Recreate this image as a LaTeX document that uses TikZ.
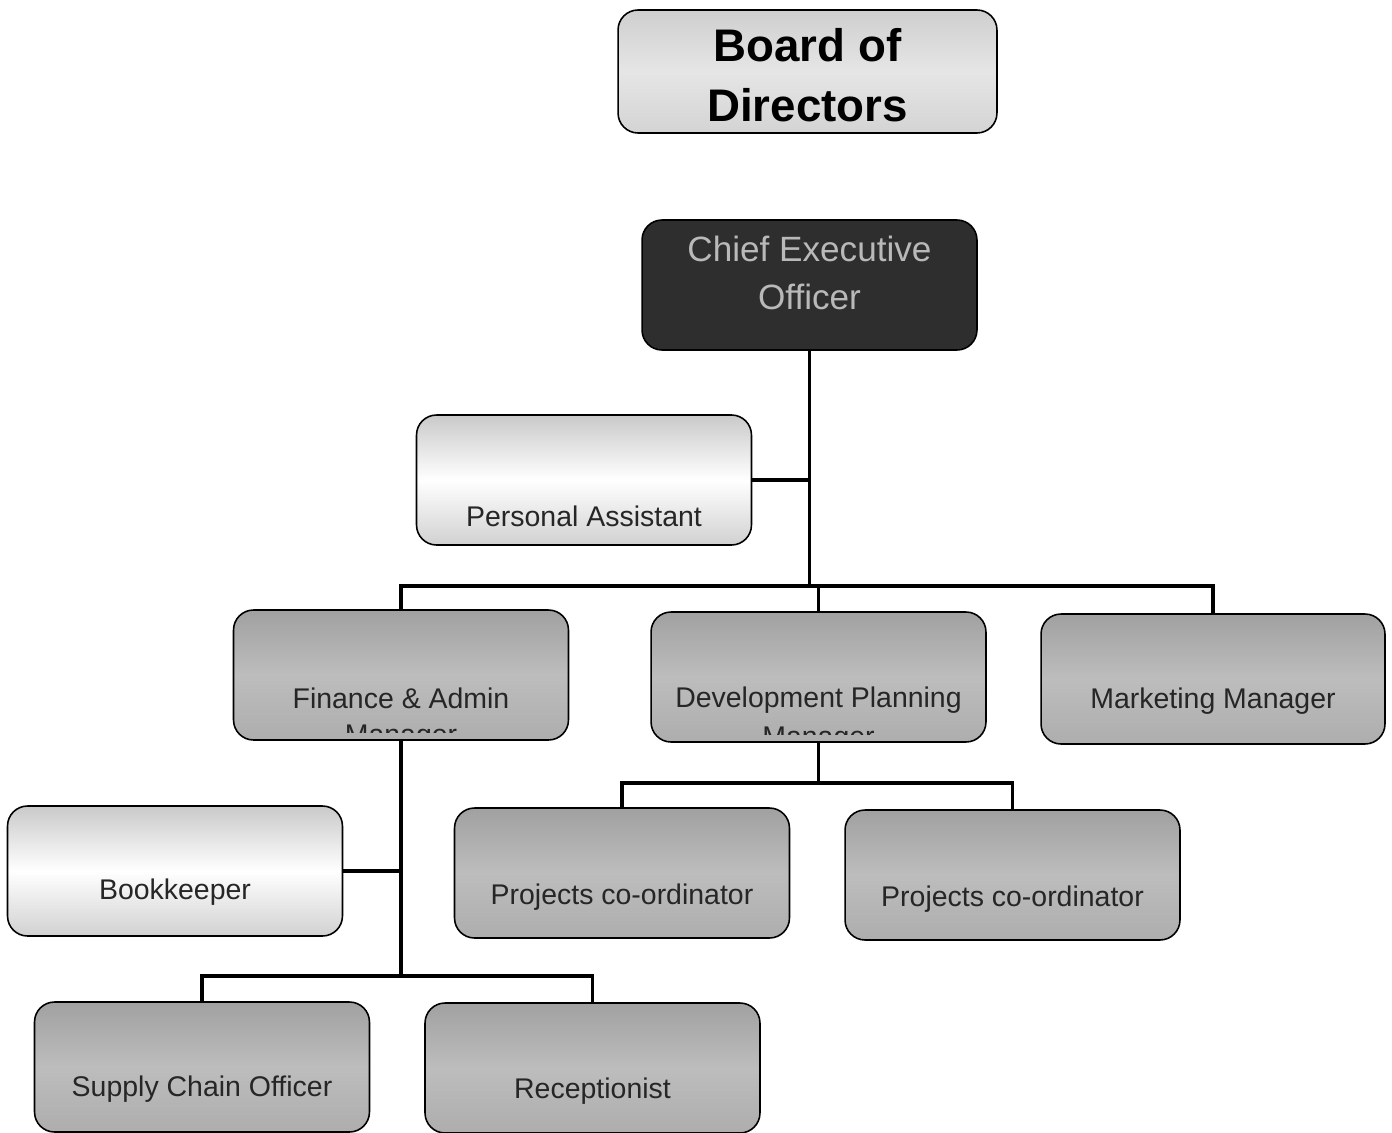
\documentclass[tikz,border=0pt]{standalone}
\usepackage{fontspec}
\setmainfont{Liberation Sans}
\usetikzlibrary{calc, shapes, arrows}

\tikzset{
	post/.style={draw, line width=0.9pt, rounded corners=0.4cm, minimum width=6.7cm, minimum height=2.6cm, inner sep=0pt},
	greypost/.style={post, top color=gray!74, bottom color=gray!64, middle color=gray!52},
	palepost/.style={post, top color=gray!42, bottom color=gray!36, middle color=white},
	link/.style={line width=2.2pt},
	lbl/.style={text=black!85, inner sep=0pt},
}

\begin{document}
\begin{tikzpicture}[x=0.02cm, y=-0.02cm]
			\newcommand{\myfontposts}[1]{%
				\fontsize{16.2}{19}\selectfont{#1}%
			}%Page frame
			\useasboundingbox (0,0) rectangle (1392,1132);
			%Board and chief executive
			\node [post, minimum width=7.58cm, minimum height=2.46cm, top color=gray!38, bottom color=gray!34, middle color=gray!20] (board) at (807.5,71.5) {};
			\node [lbl, align=center, text=black, font=\fontsize{26}{34}\selectfont\bfseries] (boardT) at ($(board.center)+(0,4)$) {Board of\\Directors};
			\node [post, fill=black!82] (ceo) at (809.5,285) {};
			\node [lbl, align=center, text=gray!55, font=\fontsize{20}{27}\selectfont] (ceoT) at ($(ceo.center)+(0,-12)$) {Chief Executive\\Officer};
			%Staff posts
			\node [palepost] (pa) at (584,480) {};
			\node [greypost] (fin) at (401,675) {};
			\node [greypost] (dev) at (818.5,677) {};
			\node [greypost, minimum width=6.88cm] (mkt) at (1213,679) {};
			\node [palepost] (bk) at (175,871) {};
			\node [greypost] (pc1) at (622,873) {};
			\node [greypost] (pc2) at (1012.5,875) {};
			\node [greypost] (sco) at (202,1067) {};
			\node [greypost] (rec) at (592.5,1068) {};
			%Texts of the posts
			\node [lbl] (paT) at ($(pa.center)+(0,36)$) {\myfontposts{Personal Assistant}};
			\node [lbl] (finT) at ($(fin.center)+(0,23)$) {\myfontposts{Finance \& Admin}};
			\node [lbl] (devT) at ($(dev.center)+(0,23)$) {\myfontposts{Development Planning}};
			\node [lbl] (mktT) at ($(mkt.center)+(0,22)$) {\myfontposts{Marketing Manager}};
			\node [lbl] (bkT) at ($(bk.center)+(0,21)$) {\myfontposts{Bookkeeper}};
			\node [lbl] (pc1T) at ($(pc1.center)+(0,24)$) {\myfontposts{Projects co-ordinator}};
			\node [lbl] (pc2T) at ($(pc2.center)+(0,24)$) {\myfontposts{Projects co-ordinator}};
			\node [lbl] (scoT) at ($(sco.center)+(0,22)$) {\myfontposts{Supply Chain Officer}};
			\node [lbl] (recT) at ($(rec.center)+(0,23)$) {\myfontposts{Receptionist}};
			%Second lines cut off by the box
			\begin{scope}
				\clip (234,610) rectangle (568,732);
				\node [lbl, anchor=base] (finM) at ($(fin.center)+(0,69.5)$) {\myfontposts{Manager}};
			\end{scope}
			\begin{scope}
				\clip (651,612) rectangle (986,734);
				\node [lbl, anchor=base] (devM) at ($(dev.center)+(0,69.5)$) {\myfontposts{Manager}};
			\end{scope}
			%Lines from the chief executive
			\coordinate (paJoin) at (ceo.south |- pa.east);
			\coordinate (bar1) at ($(ceo.south)+(0,235)$);
			\draw [link] (ceo.south) -- (bar1);
			\draw [link] (pa.east) -- (paJoin);
			\draw [link] (fin.north) -- (fin.north |- bar1) -- (mkt.north |- bar1) -- (mkt.north);
			\draw [link] (dev.north) -- (dev.north |- bar1);
			%Lines from finance
			\coordinate (bkJoin) at (fin.south |- bk.east);
			\coordinate (bar2) at ($(fin.south)+(0,235)$);
			\draw [link] (fin.south) -- (bar2);
			\draw [link] (bk.east) -- (bkJoin);
			\draw [link] (sco.north) -- (sco.north |- bar2) -- (rec.north |- bar2) -- (rec.north);
			%Lines from development planning
			\coordinate (bar3) at ($(dev.south)+(0,40)$);
			\draw [link] (dev.south) -- (bar3);
			\draw [link] (pc1.north) -- (pc1.north |- bar3) -- (pc2.north |- bar3) -- (pc2.north);
\end{tikzpicture}
\end{document}
